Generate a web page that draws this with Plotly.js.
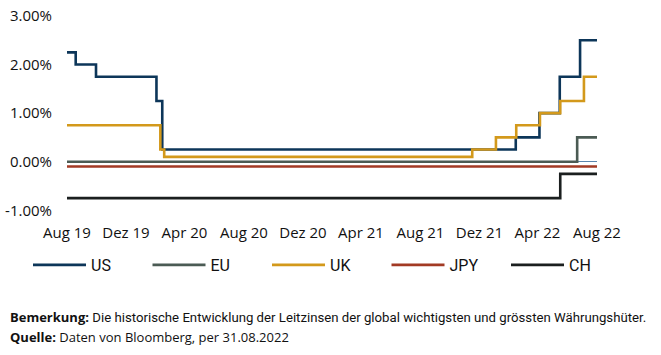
<!DOCTYPE html>
<html>
<head>
<meta charset="utf-8">
<script src="https://cdn.plot.ly/plotly-3.0.1.min.js"></script>
<style>
  html, body { margin: 0; padding: 0; background: #ffffff; }
  #chart { width: 661px; height: 355px; }
</style>
</head>
<body>
<div id="chart"></div>
<script>
// Policy rates (%), step changes
const usDates  = ['2019-08-31','2019-09-18','2019-10-30','2020-03-03','2020-03-15','2022-03-16','2022-05-04','2022-06-15','2022-07-27','2022-08-31'];
const usRates  = [2.25, 2.00, 1.75, 1.25, 0.25, 0.50, 1.00, 1.75, 2.50, 2.50];

const euDates  = ['2019-08-31','2022-07-21','2022-08-31'];
const euRates  = [0.00, 0.50, 0.50];

const ukDates  = ['2019-08-31','2020-03-11','2020-03-19','2021-12-16','2022-02-03','2022-03-17','2022-05-05','2022-06-16','2022-08-04','2022-08-31'];
const ukRates  = [0.75, 0.25, 0.10, 0.25, 0.50, 0.75, 1.00, 1.25, 1.75, 1.75];

const jpyDates = ['2019-08-31','2022-08-31'];
const jpyRates = [-0.10, -0.10];

const chDates  = ['2019-08-31','2022-06-16','2022-08-31'];
const chRates  = [-0.75, -0.25, -0.25];

const tickDates  = ['2019-08-31','2019-12-31','2020-04-30','2020-08-31','2020-12-31','2021-04-30','2021-08-31','2021-12-31','2022-04-30','2022-08-31'];
const tickLabels = ['Aug 19','Dez 19','Apr 20','Aug 20','Dez 20','Apr 21','Aug 21','Dez 21','Apr 22','Aug 22'];

const yTicks  = [-1, 0, 1, 2, 3];
const yLabels = ['-1.00%','0.00%','1.00%','2.00%','3.00%'];

function mk(name, x, y, color) {
  return { type: 'scatter', mode: 'lines', name: name, x: x, y: y,
           line: { shape: 'hv', color: color, width: 2.6 }, hoverinfo: 'skip' };
}

const data = [
  mk('US',  usDates,  usRates,  '#0d3659'),
  mk('EU',  euDates,  euRates,  '#4b5b54'),
  mk('UK',  ukDates,  ukRates,  '#d3991b'),
  mk('JPY', jpyDates, jpyRates, '#a23a24'),
  mk('CH',  chDates,  chRates,  '#1b1f1f')
];

// plot area in pixels: x 67..597, y 15..220
const PL = 67, PW = 530, PT = 15, PH = 205;
const px = v => (v - PL) / PW;
const py = v => (PT + PH - v) / PH;

const layout = {
  width: 661, height: 355,
  margin: { l: 67, r: 64, t: 15, b: 135 },
  paper_bgcolor: '#ffffff', plot_bgcolor: '#ffffff',
  showlegend: true,
  legend: {
    orientation: 'h', xref: 'paper', yref: 'paper',
    x: px(28), xanchor: 'left', y: py(265), yanchor: 'middle',
    itemwidth: 53, entrywidth: 51.5, entrywidthmode: 'pixels',
    font: { family: 'Roboto, sans-serif', size: 16, color: '#111111' },
    bgcolor: 'rgba(0,0,0,0)', itemclick: false
  },
  xaxis: {
    type: 'date', range: ['2019-08-31','2022-08-31'],
    tickmode: 'array', tickvals: tickDates, ticktext: tickLabels,
    showgrid: false, zeroline: false, showline: false, ticks: '',
    tickfont: { family: 'Open Sans, sans-serif', size: 15, color: '#111111' },
    ticklabelstandoff: 2,
    fixedrange: true
  },
  yaxis: {
    range: [-1.2, 3.02],
    tickmode: 'array', tickvals: yTicks, ticktext: yLabels,
    showgrid: false, showline: false, ticks: '',
    zeroline: true, zerolinecolor: '#5a85ad', zerolinewidth: 1,
    tickfont: { family: 'Open Sans, sans-serif', size: 15, color: '#111111' },
    ticklabelstandoff: 14,
    fixedrange: true
  },
  annotations: [
    { xref: 'paper', yref: 'paper', x: px(8), y: py(317), showarrow: false,
      xanchor: 'left', yanchor: 'middle', align: 'left',
      text: '<b>Bemerkung:</b> <span style="font-family:Roboto;font-size:13.2px">Die historische Entwicklung der Leitzinsen der global wichtigsten und grössten Währungshüter.</span>',
      font: { family: 'Open Sans, sans-serif', size: 13, color: '#111111' } },
    { xref: 'paper', yref: 'paper', x: px(8), y: py(337), showarrow: false,
      xanchor: 'left', yanchor: 'middle', align: 'left',
      text: '<b>Quelle:</b> Daten von Bloomberg, per 31.08.2022',
      font: { family: 'Open Sans, sans-serif', size: 13, color: '#111111' } }
  ]
};

Plotly.newPlot('chart', data, layout, { displayModeBar: false, staticPlot: true });
</script>
</body>
</html>
